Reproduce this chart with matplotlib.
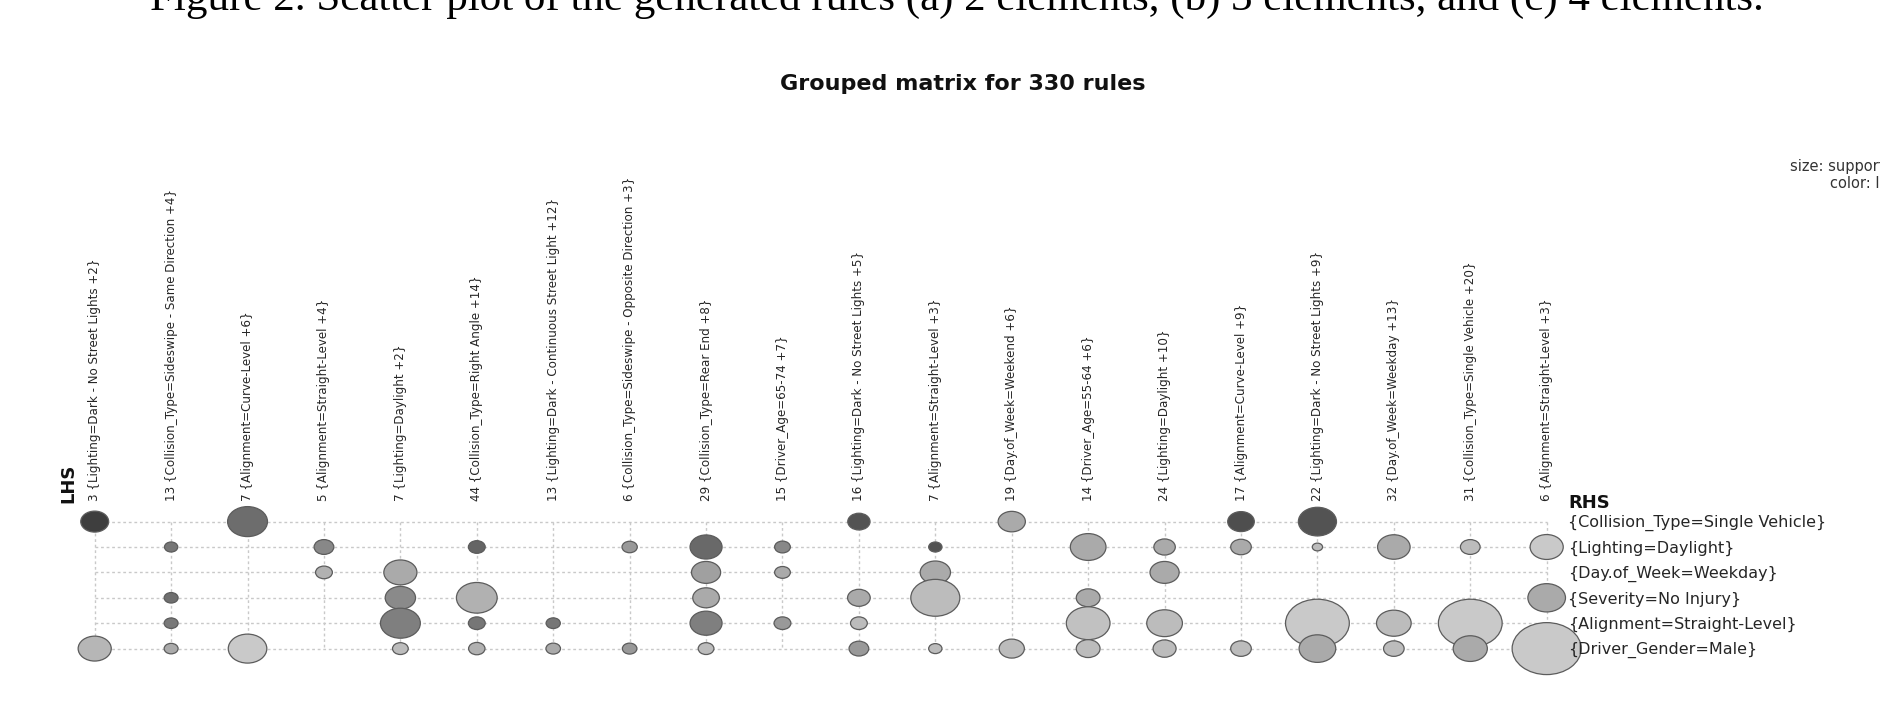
import matplotlib
matplotlib.use("Agg")
import matplotlib.pyplot as plt
from matplotlib.markers import MarkerStyle
from matplotlib.transforms import Affine2D, blended_transform_factory
from matplotlib.colors import LinearSegmentedColormap, Normalize
import numpy as np

# ---------------- data ----------------
lhs_labels = [
    "3 {Lighting=Dark - No Street Lights +2}",
    "13 {Collision_Type=Sideswipe - Same Direction +4}",
    "7 {Alignment=Curve-Level +6}",
    "5 {Alignment=Straight-Level +4}",
    "7 {Lighting=Daylight +2}",
    "44 {Collision_Type=Right Angle +14}",
    "13 {Lighting=Dark - Continuous Street Light +12}",
    "6 {Collision_Type=Sideswipe - Opposite Direction +3}",
    "29 {Collision_Type=Rear End +8}",
    "15 {Driver_Age=65-74 +7}",
    "16 {Lighting=Dark - No Street Lights +5}",
    "7 {Alignment=Straight-Level +3}",
    "19 {Day.of_Week=Weekend +6}",
    "14 {Driver_Age=55-64 +6}",
    "24 {Lighting=Daylight +10}",
    "17 {Alignment=Curve-Level +9}",
    "22 {Lighting=Dark - No Street Lights +9}",
    "32 {Day.of_Week=Weekday +13}",
    "31 {Collision_Type=Single Vehicle +20}",
    "6 {Alignment=Straight-Level +3}",
]

rhs_labels = [
    "{Collision_Type=Single Vehicle}",
    "{Lighting=Daylight}",
    "{Day.of_Week=Weekday}",
    "{Severity=No Injury}",
    "{Alignment=Straight-Level}",
    "{Driver_Gender=Male}",
]

# one entry per circle: LHS group (column), RHS item (row), support, lift
point_col = [0, 0,
             1, 1, 1, 1,
             2, 2,
             3, 3,
             4, 4, 4, 4,
             5, 5, 5, 5,
             6, 6,
             7, 7,
             8, 8, 8, 8, 8,
             9, 9, 9,
             10, 10, 10, 10,
             11, 11, 11, 11,
             12, 12,
             13, 13, 13, 13,
             14, 14, 14, 14,
             15, 15, 15,
             16, 16, 16, 16,
             17, 17, 17,
             18, 18, 18,
             19, 19, 19]
point_row = [0, 5,
             1, 3, 4, 5,
             0, 5,
             1, 2,
             2, 3, 4, 5,
             1, 3, 4, 5,
             4, 5,
             1, 5,
             1, 2, 3, 4, 5,
             1, 2, 4,
             0, 3, 4, 5,
             1, 2, 3, 5,
             0, 5,
             1, 3, 4, 5,
             1, 2, 4, 5,
             0, 1, 5,
             0, 1, 4, 5,
             1, 4, 5,
             1, 4, 5,
             1, 3, 5]
support = [0.022, 0.031,
           0.005, 0.0055, 0.0055, 0.0055,
           0.045, 0.042,
           0.011, 0.008,
           0.031, 0.026, 0.045, 0.007,
           0.008, 0.047, 0.008, 0.0076,
           0.0057, 0.006,
           0.0066, 0.006,
           0.029, 0.024, 0.020, 0.029, 0.007,
           0.007, 0.007, 0.008,
           0.014, 0.0145, 0.008, 0.011,
           0.005, 0.026, 0.068, 0.005,
           0.021, 0.018,
           0.036, 0.016, 0.054, 0.016,
           0.013, 0.024, 0.036, 0.015,
           0.020, 0.012, 0.012,
           0.041, 0.003, 0.115, 0.038,
           0.030, 0.034, 0.012,
           0.011, 0.115, 0.033,
           0.031, 0.040, 0.135]
lift = [3.00, 1.28,
        2.19, 2.29, 2.15, 1.44,
        2.32, 1.00,
        1.94, 1.35,
        1.44, 1.91, 2.06, 1.19,
        2.44, 1.35, 2.19, 1.35,
        2.19, 1.44,
        1.69, 1.69,
        2.38, 1.59, 1.44, 2.06, 1.19,
        1.94, 1.44, 1.69,
        2.69, 1.44, 1.19, 1.69,
        2.69, 1.44, 1.19, 1.19,
        1.44, 1.19,
        1.44, 1.44, 1.12, 1.19,
        1.44, 1.44, 1.19, 1.19,
        2.76, 1.44, 1.19,
        2.69, 1.19, 1.00, 1.44,
        1.44, 1.19, 1.19,
        1.19, 1.00, 1.44,
        1.00, 1.44, 1.00]

# ---------------- figure ----------------
W, H = 1880, 719
fig = plt.figure(figsize=(W / 100, H / 100), dpi=100)
fig.patch.set_facecolor("white")

col_x0, col_dx = 94.7, 76.42
row_y0, row_dy = 521.6, 25.4
n_cols, n_rows = len(lhs_labels), len(rhs_labels)
left_px = col_x0 - col_dx / 2
top_px = row_y0 - row_dy / 2
ax = fig.add_axes([left_px / W, 1 - (top_px + n_rows * row_dy) / H,
                   n_cols * col_dx / W, n_rows * row_dy / H])
ax.set_xlim(-0.5, n_cols - 0.5)
ax.set_ylim(n_rows - 0.5, -0.5)
ax.axis("off")

grid_kw = dict(color="#c9c9c9", linewidth=1.0, linestyles=(0, (2, 2)), zorder=1)
ax.hlines(np.arange(n_rows), 0, n_cols - 1, **grid_kw)
ax.vlines(np.arange(n_cols), 0, n_rows - 1, **grid_kw)

cmap = LinearSegmentedColormap.from_list("lift", ["#c9c9c9", "#3e3e3e"])
norm = Normalize(vmin=1.0, vmax=3.0)

order = np.argsort(np.array(point_row), kind="stable")
px = np.array(point_col)[order]
py = np.array(point_row)[order]
ps = np.array(support)[order]
pl = np.array(lift)[order]

px_per_pt = 100 / 72
size_scale = 20000 / px_per_pt ** 2
marker = MarkerStyle("o", transform=Affine2D().scale(1.33, 1.0))
ax.scatter(px, py, s=ps * size_scale, c=cmap(norm(pl)), marker=marker,
           edgecolors="#5c5c5c", linewidths=0.9, zorder=3, clip_on=False)

# column (LHS) labels
for i, lab in enumerate(lhs_labels):
    ax.text(i, -0.5 - 8.0 / row_dy, lab, rotation=90, ha="center", va="bottom",
            fontsize=8.6, family="DejaVu Sans", color="#262626")

# RHS labels
tr = blended_transform_factory(fig.transFigure, ax.transData)
for j, lab in enumerate(rhs_labels):
    ax.text(1568 / W, j + 0.06, lab, transform=tr, ha="left", va="center",
            fontsize=11.5, family="DejaVu Sans", color="#262626")

fig.text(1568 / W, 1 - 503 / H, "RHS", ha="left", va="center",
         fontsize=13, fontweight="bold", family="DejaVu Sans", color="#111111")
fig.text(68 / W, 1 - 483 / H, "LHS", ha="center", va="center", rotation=90,
         fontsize=13, fontweight="bold", family="DejaVu Sans", color="#111111")

fig.text(963 / W, 1 - 84 / H, "Grouped matrix for 330 rules", ha="center",
         va="center", fontsize=16, fontweight="bold", family="DejaVu Sans",
         color="#111111")

fig.text(1790 / W, 1 - 166 / H, "size: support", ha="left", va="center",
         fontsize=10.5, family="DejaVu Sans", color="#333333")
fig.text(1830 / W, 1 - 183 / H, "color: lift", ha="left", va="center",
         fontsize=10.5, family="DejaVu Sans", color="#333333")

fig.text(150 / W, 1 - 10 / H,
         "Figure 2. Scatter plot of the generated rules (a) 2 elements, "
         "(b) 3 elements, and (c) 4 elements.",
         ha="left", va="baseline", fontsize=31, family="Liberation Serif",
         color="black")

fig.savefig("out.png", dpi=100, facecolor="white")
